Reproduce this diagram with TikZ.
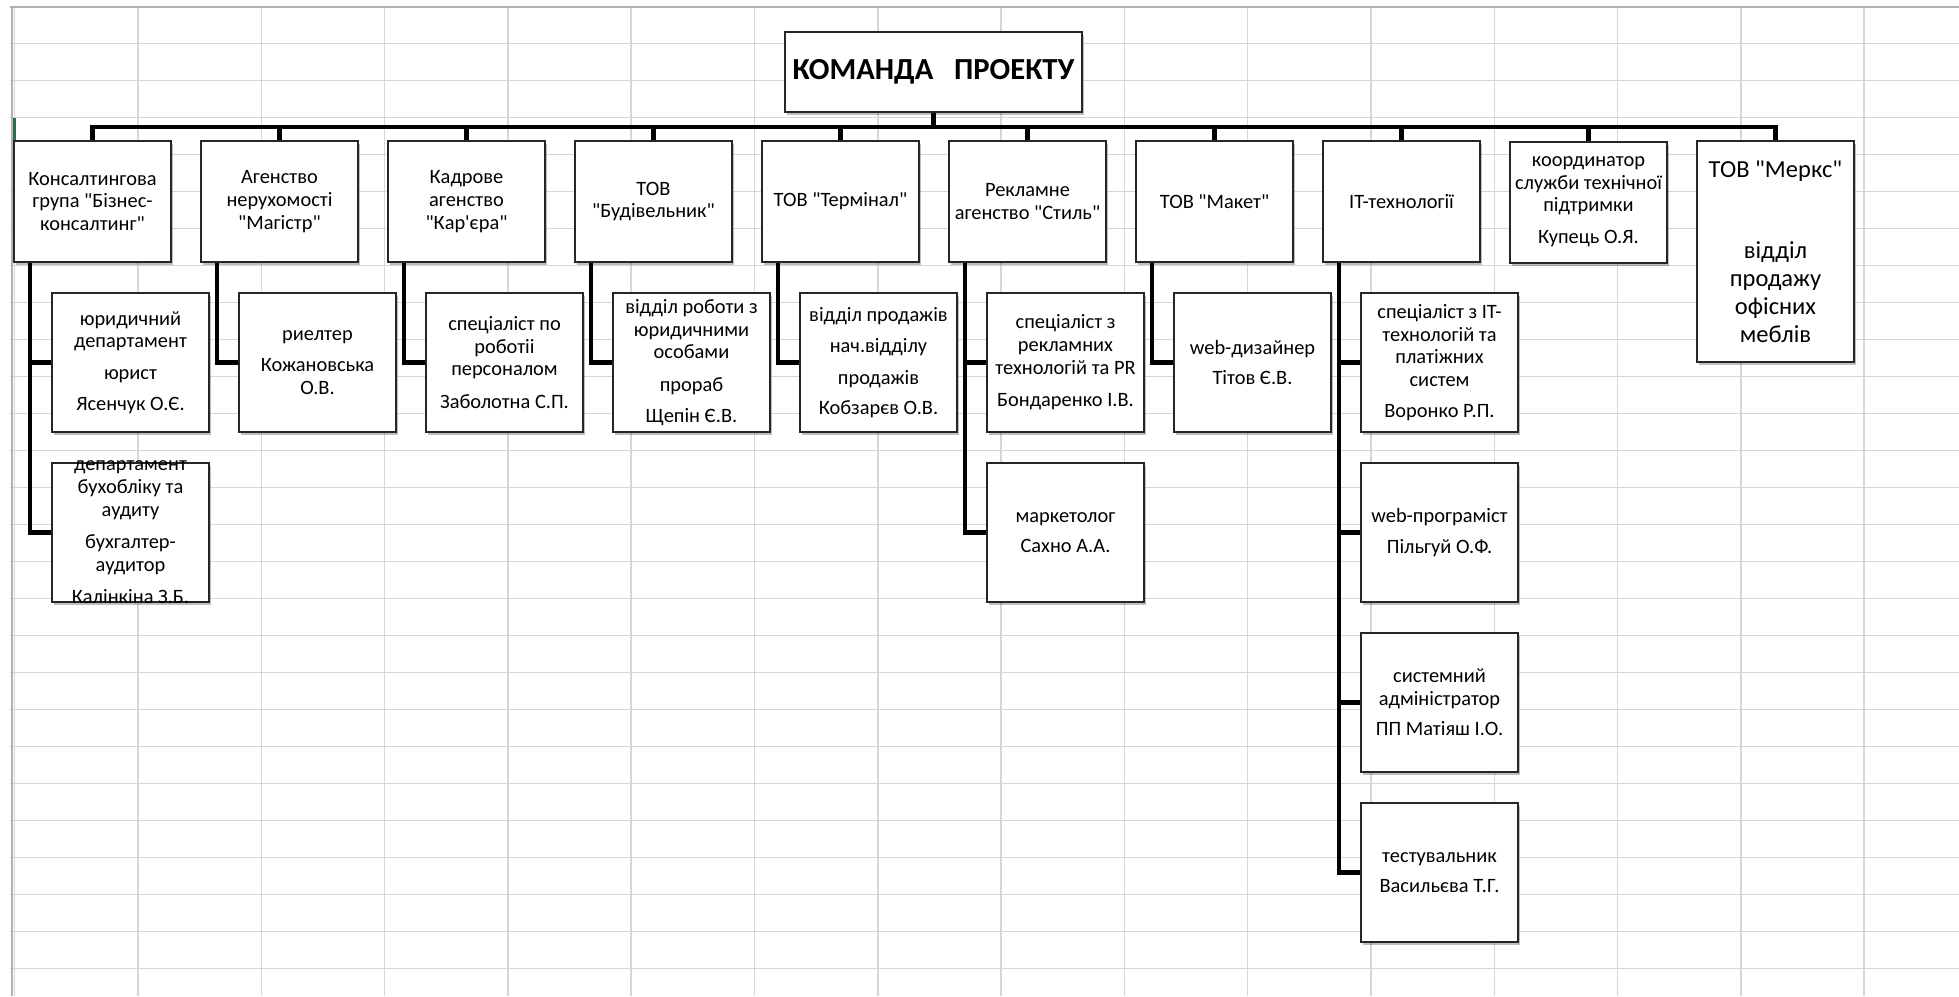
\documentclass[tikz,border=0pt]{standalone}
\usepackage{fontspec}
\setmainfont{Carlito}[Ligatures=TeXOff]
\usetikzlibrary{shadows}
\newcommand{\fA}{\fontsize{20.4}{22.6}\selectfont}
\newcommand{\fB}{\fontsize{24.5}{28}\selectfont}
\newcommand{\fT}{\fontsize{30.6}{36}\selectfont\bfseries}
\definecolor{gridc}{HTML}{D6D6D6}
\definecolor{xlgreen}{HTML}{217346}
\pgfdeclarelayer{gridlayer}
\pgfdeclarelayer{bglayer}
\pgfsetlayers{gridlayer,bglayer,main}
\tikzset{
  gridline/.style={draw=gridc, line width=1.5pt},
  box/.style={draw=black!85, line width=2pt, fill=white, inner sep=0pt,
    minimum width=157pt, align=center, font=\fA,
    drop shadow={shadow xshift=2pt, shadow yshift=-3pt, opacity=.25, fill=black}},
  lone/.style={box, minimum height=121pt},
  ltwo/.style={box, minimum height=139pt},
  txt/.style={inner sep=0pt, align=center, font=\fA},
  titlebox/.style={box, minimum width=297pt, minimum height=80pt, font=\fT},
  conn/.style={draw=black, line width=4.5pt},
}
\begin{document}
\begin{tikzpicture}[x=1pt,y=-1pt]
\useasboundingbox (0,0) rectangle (1959,996);
\begin{pgfonlayer}{gridlayer}
  \fill[white] (0,0) rectangle (1959,996);
  \foreach \i in {1,...,26} \draw[gridline] (10,{6.7+37*\i}) -- (1959,{6.7+37*\i});
  \foreach \i in {0,...,15} \draw[gridline] ({14.7+123.3*\i},6.7) -- ({14.7+123.3*\i},996);
  \draw[draw=black!30, line width=2pt] (10,6.7) -- (1959,6.7);
  \draw[draw=black!30, line width=2pt] (11.5,6.7) -- (11.5,996);
  \draw[xlgreen, line width=3pt] (14.5,118) -- (14.5,155);
\end{pgfonlayer}

% title
\node[titlebox] (top) at (933.5,72) {КОМАНДА\ \ \ ПРОЕКТУ};

% level 1
\node[lone] (a1) at (92.5,201.5) {Консалтингова\\група "Бізнес-\\консалтинг"};
\node[lone] (a2) at (279.5,201.5) {Агенство\\нерухомості\\"Магістр"};
\node[lone] (a3) at (466.5,201.5) {Кадрове\\агенство\\"Кар'єра"};
\node[lone] (a4) at (653.5,201.5) {ТОВ\\"Будівельник"};
\node[lone] (a5) at (840.5,201.5) {ТОВ "Термінал"};
\node[lone] (a6) at (1027.5,201.5) {Рекламне\\агенство "Стиль"};
\node[lone] (a7) at (1214.5,201.5) {ТОВ "Макет"};
\node[lone] (a8) at (1401.5,201.5) {IT-технології};
\node[lone] (a9) at (1588.5,202) {координатор\\служби технічної\\підтримки\\[9.5pt]Купець О.Я.};
\node[box, minimum height=221pt, font=\fB] (a10) at (1775.5,251.5) {ТОВ "Меркс"\\[53pt]відділ\\продажу\\офісних\\меблів};

% level 2
\node[ltwo] (b1) at (130.5,362.5) {юридичний\\департамент\\[9pt]юрист\\[8pt]Ясенчук О.Є.};
\node[ltwo] (b2) at (317.5,362.5) {риелтер\\[8.5pt]Кожановська\\О.В.};
\node[ltwo] (b3) at (504.5,362.5) {спеціаліст по\\роботіі\\персоналом\\[10pt]Заболотна С.П.};
\node[ltwo] (b4) at (691.5,362.5) {відділ роботи з\\юридичними\\особами\\[10pt]прораб\\[8.5pt]Щепін Є.В.};
\node[ltwo] (b5) at (878.5,362.5) {відділ продажів\\[8.5pt]нач.відділу\\[9.5pt]продажів\\[7.5pt]Кобзарєв О.В.};
\node[ltwo] (b6) at (1065.5,362.5) {спеціаліст з\\рекламних\\технологій та PR\\[10pt]Бондаренко І.В.};
\node[ltwo] (b7) at (1252.5,362.5) {web-дизайнер\\[7.5pt]Тітов Є.В.};
\node[ltwo] (b8) at (1439.5,362.5) {спеціаліст з IT-\\технологій та\\платіжних\\систем\\[8pt]Воронко Р.П.};

% level 3+
\node[ltwo] (c1) at (130.5,532.5) {};
\node[txt] (c1t) at (c1.center) {департамент\\бухобліку та\\аудиту\\[10pt]бухгалтер-\\аудитор\\[10pt]Калінкіна З.Б.};
\node[ltwo] (c6) at (1065.5,532.5) {маркетолог\\[8pt]Сахно А.А.};
\node[ltwo] (c8) at (1439.5,532.5) {web-програміст\\[8pt]Пільгуй О.Ф.};
\node[ltwo] (d8) at (1439.5,702.5) {системний\\адміністратор\\[8pt]ПП Матіяш І.О.};
\node[ltwo] (e8) at (1439.5,872.5) {тестувальник\\[7.5pt]Васильєва Т.Г.};

\begin{pgfonlayer}{bglayer}
  \foreach \n in {a1,a2,a3,a4,a5,a6,a7,a8,a9,a10}
    \draw[conn] (top.south) -- ++(0,14) -| (\n.north);
  \foreach \p/\c in {a1/b1,a1/c1,a2/b2,a3/b3,a4/b4,a5/b5,a6/b6,a6/c6,a7/b7,a8/b8,a8/c8,a8/d8,a8/e8}
    \draw[conn] ([xshift=17pt]\p.south west) |- (\c.west);
\end{pgfonlayer}
\end{tikzpicture}
\end{document}
